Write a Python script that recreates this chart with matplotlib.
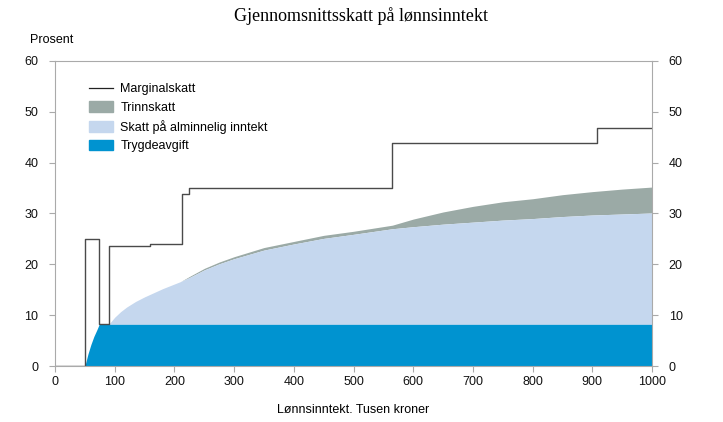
import matplotlib
matplotlib.use("Agg")
import matplotlib.pyplot as plt
from matplotlib.lines import Line2D
from matplotlib.patches import Patch

plt.rcParams["font.family"] = ["Liberation Sans", "DejaVu Sans"]

# average tax, percent, by wage income (thousand NOK)
income = [0, 50, 55, 60, 65, 70, 74, 90, 95, 100, 110, 120, 135, 150, 165, 180, 195, 210, 225,
          250, 275, 300, 350, 400, 450, 500, 565, 600, 650, 700, 750, 800, 850, 900, 950, 1000]
trygdeavgift = [0, 0, 2.3, 4.2, 5.8, 7.1, 8.2, 8.2, 8.2, 8.2, 8.2, 8.2, 8.2, 8.2, 8.2, 8.2, 8.2, 8.2, 8.2,
                8.2, 8.2, 8.2, 8.2, 8.2, 8.2, 8.2, 8.2, 8.2, 8.2, 8.2, 8.2, 8.2, 8.2, 8.2, 8.2, 8.2]
alminnelig_total = [0, 0, 2.3, 4.2, 5.8, 7.1, 8.2, 8.2, 8.9, 9.6, 10.7, 11.6, 12.7, 13.6, 14.4, 15.2, 15.9, 16.6, 17.4,
                    18.9, 20.1, 21.1, 22.8, 24.0, 25.1, 25.9, 27.0, 27.4, 27.9, 28.3, 28.7, 29.0, 29.4, 29.7, 29.9, 30.1]
trinnskatt = [0, 0, 0, 0, 0, 0, 0, 0, 0, 0, 0, 0, 0, 0, 0, 0, 0, 0, 0.2,
              0.3, 0.35, 0.4, 0.5, 0.5, 0.6, 0.6, 0.7, 1.5, 2.4, 3.1, 3.6, 3.9, 4.3, 4.6, 4.9, 5.1]

# marginal tax steps
marg_x = [0, 50, 74, 90, 159, 212, 225, 564, 908, 1000]
marg_y = [0, 25, 8.2, 23.6, 24.0, 33.8, 35.0, 43.8, 46.9, 46.9]

c_trygd = "#0093d0"
c_alm = "#c5d7ee"
c_trinn = "#9baaa6"
c_axis = "#aaaaaa"

fig = plt.figure(figsize=(7.23, 4.22), dpi=100)
ax = fig.add_axes([0.0761, 0.1327, 0.8257, 0.7228])

top = [a + t for a, t in zip(alminnelig_total, trinnskatt)]
ax.fill_between(income, alminnelig_total, top, color=c_trinn, lw=0)
ax.fill_between(income, trygdeavgift, alminnelig_total, color=c_alm, lw=0)
ax.fill_between(income, 0, trygdeavgift, color=c_trygd, lw=0)
ax.step(marg_x, marg_y, where="post", color="#4a4a4a", lw=1.0)

ax.set_xlim(0, 1000)
ax.set_ylim(0, 60)
ax.set_xticks(range(0, 1001, 100))
ax.set_yticks(range(0, 61, 10))
for s in ax.spines.values():
    s.set_color(c_axis)
ax.tick_params(colors=c_axis, labelcolor="#111111", labelsize=9, length=4,
               right=True, labelright=True)
ax.tick_params(axis="x", pad=3)
ax.tick_params(axis="y", pad=8)

fig.text(0.5, 0.962, "Gjennomsnittsskatt på lønnsinntekt", ha="center", va="center",
         fontsize=13, family=["Liberation Serif", "DejaVu Serif"])
fig.text(0.041, 0.905, "Prosent", ha="left", va="center", fontsize=9)
ax.set_xlabel("Lønnsinntekt. Tusen kroner", fontsize=9, labelpad=12)

handles = [Line2D([0], [0], color="#222222", lw=0.9),
           Patch(color=c_trinn), Patch(color=c_alm), Patch(color=c_trygd)]
labels = ["Marginalskatt", "Trinnskatt", "Skatt på alminnelig inntekt", "Trygdeavgift"]
ax.legend(handles, labels, loc="upper left", bbox_to_anchor=(0.038, 0.965), frameon=False,
          fontsize=9, handlelength=1.9, handleheight=0.9, labelspacing=0.48, handletextpad=0.6)

fig.savefig("out.png", dpi=100)
